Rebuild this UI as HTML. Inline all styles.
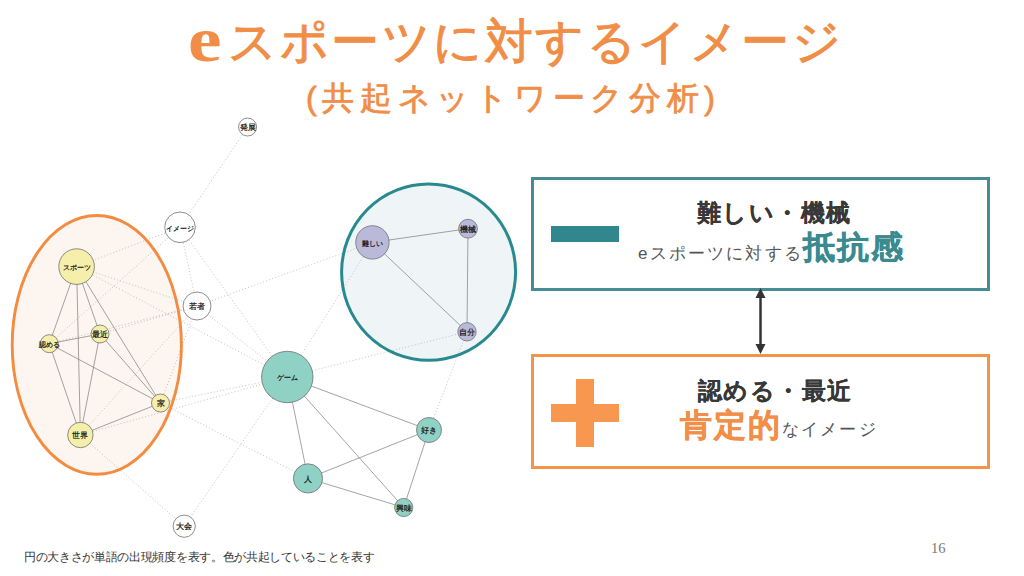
<!DOCTYPE html>
<html><head><meta charset="utf-8">
<style>
html,body{margin:0;padding:0;}
body{width:1024px;height:576px;position:relative;overflow:hidden;background:#fff;font-family:"Liberation Sans",sans-serif;}
.abs{position:absolute;white-space:nowrap;}
#te{left:188px;top:0px;color:#f08d46;font-family:"Liberation Serif",serif;font-weight:bold;font-size:64px;line-height:80px;transform:scaleX(1.18);transform-origin:0 0;}
#title{-webkit-text-stroke:1.0px currentColor;left:228px;top:12px;color:#f08d46;font-size:48px;line-height:60px;letter-spacing:2.5px;}
#sub{-webkit-text-stroke:0.8px currentColor;left:306px;top:73px;color:#f08d46;font-size:32px;line-height:50px;letter-spacing:5.7px;}
.box{position:absolute;box-sizing:border-box;background:#fff;}
#box1{left:531px;top:177px;width:459px;height:114px;border:3px solid #478b95;}
#box2{left:531px;top:354px;width:459px;height:115px;border:3px solid #f4934a;}
#minus{position:absolute;left:551px;top:226px;width:68px;height:16px;background:#32878e;}
#plush{position:absolute;left:551px;top:404px;width:68px;height:18px;background:#f79750;}
#plusv{position:absolute;left:576px;top:379px;width:18px;height:68px;background:#f79750;}
.t1{-webkit-text-stroke:0.1px currentColor;color:#383838;font-weight:bold;font-size:24px;line-height:32px;letter-spacing:1.4px;}
.st{color:#555;font-size:17px;line-height:30px;letter-spacing:2.15px;}
.bt{-webkit-text-stroke:0.4px currentColor;font-weight:bold;font-size:32px;line-height:44px;letter-spacing:2.2px;}
</style></head><body>
<svg width="530" height="576" viewBox="0 0 530 576" style="position:absolute;left:0;top:0">
<ellipse cx="96.8" cy="344.9" rx="84.6" ry="129.4" fill="#fdf5ef" stroke="none"/>
<ellipse cx="428.6" cy="272.1" rx="87" ry="88.2" fill="#eff4f6" stroke="none"/>
<line x1="247.6" y1="127" x2="180" y2="227.3" stroke="#a8a8a8" stroke-width="0.7" stroke-dasharray="1 2.2"/>
<line x1="180" y1="227.3" x2="76.6" y2="266.6" stroke="#a8a8a8" stroke-width="0.7" stroke-dasharray="1 2.2"/>
<line x1="180" y1="227.3" x2="287.3" y2="377" stroke="#a8a8a8" stroke-width="0.7" stroke-dasharray="1 2.2"/>
<line x1="180" y1="227.3" x2="49.3" y2="343.7" stroke="#a8a8a8" stroke-width="0.7" stroke-dasharray="1 2.2"/>
<line x1="197" y1="306" x2="76.6" y2="266.6" stroke="#a8a8a8" stroke-width="0.7" stroke-dasharray="1 2.2"/>
<line x1="197" y1="306" x2="287.3" y2="377" stroke="#a8a8a8" stroke-width="0.7" stroke-dasharray="1 2.2"/>
<line x1="197" y1="306" x2="372.4" y2="242.4" stroke="#a8a8a8" stroke-width="0.7" stroke-dasharray="1 2.2"/>
<line x1="197" y1="306" x2="100" y2="334" stroke="#a8a8a8" stroke-width="0.7" stroke-dasharray="1 2.2"/>
<line x1="197" y1="306" x2="49.3" y2="343.7" stroke="#a8a8a8" stroke-width="0.7" stroke-dasharray="1 2.2"/>
<line x1="76.6" y1="266.6" x2="287.3" y2="377" stroke="#a8a8a8" stroke-width="0.7" stroke-dasharray="1 2.2"/>
<line x1="160.5" y1="403" x2="287.3" y2="377" stroke="#a8a8a8" stroke-width="0.7" stroke-dasharray="1 2.2"/>
<line x1="80.4" y1="435" x2="287.3" y2="377" stroke="#a8a8a8" stroke-width="0.7" stroke-dasharray="1 2.2"/>
<line x1="287.3" y1="377" x2="372.4" y2="242.4" stroke="#a8a8a8" stroke-width="0.7" stroke-dasharray="1 2.2"/>
<line x1="287.3" y1="377" x2="467" y2="331.8" stroke="#a8a8a8" stroke-width="0.7" stroke-dasharray="1 2.2"/>
<line x1="287.3" y1="377" x2="184.2" y2="526.2" stroke="#a8a8a8" stroke-width="0.7" stroke-dasharray="1 2.2"/>
<line x1="80.4" y1="435" x2="184.2" y2="526.2" stroke="#a8a8a8" stroke-width="0.7" stroke-dasharray="1 2.2"/>
<line x1="429" y1="430" x2="467" y2="331.8" stroke="#a8a8a8" stroke-width="0.7" stroke-dasharray="1 2.2"/>
<line x1="160.5" y1="403" x2="308" y2="478.4" stroke="#a8a8a8" stroke-width="0.7" stroke-dasharray="1 2.2"/>
<line x1="180" y1="227.3" x2="197" y2="306" stroke="#a8a8a8" stroke-width="0.7" stroke-dasharray="1 2.2"/>
<line x1="160.5" y1="403" x2="197" y2="306" stroke="#a8a8a8" stroke-width="0.7" stroke-dasharray="1 2.2"/>
<line x1="80.4" y1="435" x2="197" y2="306" stroke="#a8a8a8" stroke-width="0.7" stroke-dasharray="1 2.2"/>
<line x1="76.6" y1="266.6" x2="49.3" y2="343.7" stroke="#737373" stroke-width="0.65"/>
<line x1="76.6" y1="266.6" x2="80.4" y2="435" stroke="#737373" stroke-width="0.65"/>
<line x1="76.6" y1="266.6" x2="100" y2="334" stroke="#737373" stroke-width="0.65"/>
<line x1="76.6" y1="266.6" x2="160.5" y2="403" stroke="#737373" stroke-width="0.65"/>
<line x1="49.3" y1="343.7" x2="100" y2="334" stroke="#737373" stroke-width="0.65"/>
<line x1="49.3" y1="343.7" x2="160.5" y2="403" stroke="#737373" stroke-width="0.65"/>
<line x1="49.3" y1="343.7" x2="80.4" y2="435" stroke="#737373" stroke-width="0.65"/>
<line x1="100" y1="334" x2="80.4" y2="435" stroke="#737373" stroke-width="0.65"/>
<line x1="100" y1="334" x2="160.5" y2="403" stroke="#737373" stroke-width="0.65"/>
<line x1="80.4" y1="435" x2="160.5" y2="403" stroke="#737373" stroke-width="0.65"/>
<line x1="287.3" y1="377" x2="308" y2="478.4" stroke="#737373" stroke-width="0.65"/>
<line x1="287.3" y1="377" x2="429" y2="430" stroke="#737373" stroke-width="0.65"/>
<line x1="287.3" y1="377" x2="403.7" y2="507.5" stroke="#737373" stroke-width="0.65"/>
<line x1="308" y1="478.4" x2="429" y2="430" stroke="#737373" stroke-width="0.65"/>
<line x1="308" y1="478.4" x2="403.7" y2="507.5" stroke="#737373" stroke-width="0.65"/>
<line x1="429" y1="430" x2="403.7" y2="507.5" stroke="#737373" stroke-width="0.65"/>
<line x1="372.4" y1="242.4" x2="468" y2="228.7" stroke="#737373" stroke-width="0.65"/>
<line x1="372.4" y1="242.4" x2="467" y2="331.8" stroke="#737373" stroke-width="0.65"/>
<line x1="468" y1="228.7" x2="467" y2="331.8" stroke="#737373" stroke-width="0.65"/>
<ellipse cx="96.8" cy="344.9" rx="84.6" ry="129.4" fill="none" stroke="#f38c40" stroke-width="2.9"/>
<ellipse cx="428.6" cy="272.1" rx="87" ry="88.2" fill="none" stroke="#278a91" stroke-width="3"/>
<circle cx="247.6" cy="127" r="9" fill="#ffffff" stroke="#707070" stroke-width="0.8"/>
<text x="247.6" y="130.2" font-size="7.8" text-anchor="middle" fill="#111" stroke="#111" stroke-width="0.2">発展</text>
<circle cx="180" cy="227.3" r="15.3" fill="#ffffff" stroke="#707070" stroke-width="0.8"/>
<text x="180" y="230.5" font-size="7.3" text-anchor="middle" fill="#111" stroke="#111" stroke-width="0.2">イメージ</text>
<circle cx="197" cy="306" r="14" fill="#ffffff" stroke="#707070" stroke-width="0.8"/>
<text x="197" y="309.2" font-size="7.8" text-anchor="middle" fill="#111" stroke="#111" stroke-width="0.2">若者</text>
<circle cx="76.6" cy="266.6" r="17.8" fill="#f6eeab" stroke="#707070" stroke-width="0.8"/>
<text x="76.6" y="269.8" font-size="7.3" text-anchor="middle" fill="#111" stroke="#111" stroke-width="0.2">スポーツ</text>
<circle cx="100" cy="334" r="9" fill="#f6eeab" stroke="#707070" stroke-width="0.8"/>
<text x="100" y="337.2" font-size="7.8" text-anchor="middle" fill="#111" stroke="#111" stroke-width="0.2">最近</text>
<circle cx="49.3" cy="343.7" r="9" fill="#f6eeab" stroke="#707070" stroke-width="0.8"/>
<text x="49.3" y="346.9" font-size="7.3" text-anchor="middle" fill="#111" stroke="#111" stroke-width="0.2">認める</text>
<circle cx="160.5" cy="403" r="9" fill="#f6eeab" stroke="#707070" stroke-width="0.8"/>
<text x="160.5" y="406.2" font-size="7.8" text-anchor="middle" fill="#111" stroke="#111" stroke-width="0.2">家</text>
<circle cx="80.4" cy="435" r="12.7" fill="#f6eeab" stroke="#707070" stroke-width="0.8"/>
<text x="80.4" y="438.2" font-size="7.8" text-anchor="middle" fill="#111" stroke="#111" stroke-width="0.2">世界</text>
<circle cx="287.3" cy="377" r="25.7" fill="#8fd1c4" stroke="#707070" stroke-width="0.8"/>
<text x="287.3" y="380.2" font-size="7.3" text-anchor="middle" fill="#111" stroke="#111" stroke-width="0.2">ゲーム</text>
<circle cx="429" cy="430" r="12.5" fill="#8fd1c4" stroke="#707070" stroke-width="0.8"/>
<text x="429" y="433.2" font-size="7.8" text-anchor="middle" fill="#111" stroke="#111" stroke-width="0.2">好き</text>
<circle cx="308" cy="478.4" r="14.6" fill="#8fd1c4" stroke="#707070" stroke-width="0.8"/>
<text x="308" y="481.6" font-size="7.8" text-anchor="middle" fill="#111" stroke="#111" stroke-width="0.2">人</text>
<circle cx="403.7" cy="507.5" r="9.1" fill="#8fd1c4" stroke="#707070" stroke-width="0.8"/>
<text x="403.7" y="510.7" font-size="7.8" text-anchor="middle" fill="#111" stroke="#111" stroke-width="0.2">興味</text>
<circle cx="184.2" cy="526.2" r="11.1" fill="#ffffff" stroke="#707070" stroke-width="0.8"/>
<text x="184.2" y="529.4" font-size="7.8" text-anchor="middle" fill="#111" stroke="#111" stroke-width="0.2">大会</text>
<circle cx="372.4" cy="242.4" r="16.7" fill="#bbb9d9" stroke="#707070" stroke-width="0.8"/>
<text x="372.4" y="245.6" font-size="7.3" text-anchor="middle" fill="#111" stroke="#111" stroke-width="0.2">難しい</text>
<circle cx="468" cy="228.7" r="9.4" fill="#bbb9d9" stroke="#707070" stroke-width="0.8"/>
<text x="468" y="231.9" font-size="7.8" text-anchor="middle" fill="#111" stroke="#111" stroke-width="0.2">機械</text>
<circle cx="467" cy="331.8" r="9.2" fill="#bbb9d9" stroke="#707070" stroke-width="0.8"/>
<text x="467" y="335.0" font-size="7.8" text-anchor="middle" fill="#111" stroke="#111" stroke-width="0.2">自分</text>
</svg>
<div id="te" class="abs">e</div>
<div id="title" class="abs">スポーツに対するイメージ</div>
<div id="sub" class="abs">(共起ネットワーク分析)</div>
<div id="box1" class="box"></div>
<div id="box2" class="box"></div>
<div id="minus"></div>
<div id="plush"></div><div id="plusv"></div>
<div id="m1" class="abs t1" style="left:697px;top:197px;">難しい・機械</div>
<div id="s1" class="abs st" style="left:638px;top:239px;">eスポーツに対する</div>
<div id="b1" class="abs bt" style="left:803px;top:225px;color:#3a8a90;">抵抗感</div>
<div id="m2" class="abs t1" style="left:698px;top:375px;">認める・最近</div>
<div id="b2" class="abs bt" style="left:680px;top:403px;color:#f28e47;">肯定的</div>
<div id="s2" class="abs st" style="left:782px;top:415px;">なイメージ</div>
<svg class="abs" style="left:750px;top:286px" width="22" height="72" viewBox="0 0 22 72">
<line x1="10.5" y1="8" x2="10.5" y2="62" stroke="#333" stroke-width="2.5"/>
<polygon points="10.5,2 15.5,12 5.5,12" fill="#333"/>
<polygon points="10.5,68 15.5,58 5.5,58" fill="#333"/>
</svg>
<div id="cap" class="abs" style="left:24px;top:549px;font-size:12px;letter-spacing:-0.32px;color:#333;">円の大きさが単語の出現頻度を表す。色が共起していることを表す</div>
<div class="abs" style="left:931px;top:540px;font-family:'Liberation Serif',serif;font-size:14.5px;color:#777;">16</div>
</body></html>
